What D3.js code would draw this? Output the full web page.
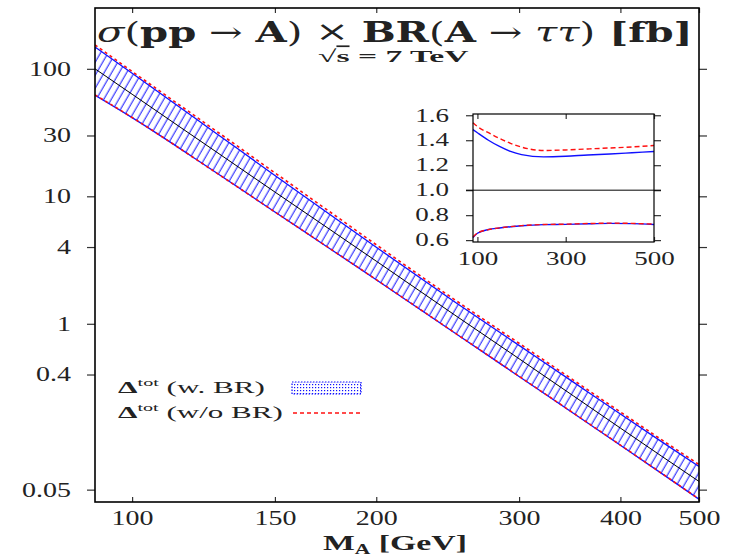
<!DOCTYPE html>
<html lang="en">
<head>
    <meta charset="UTF-8">
    <title>sigma x BR (A -> tau tau)</title>
    <script src="https://d3js.org/d3.v7.min.js"></script>
    <style>
        body { margin: 0; background: #fff; }
        svg text { fill: #222; }
    </style>
</head>
<body>
    <svg width="743" height="557" font-family="Liberation Serif, DejaVu Serif, serif"></svg>

    <script>
        // data
        const mass = [90, 100, 125, 150, 175, 200, 250, 300, 350, 400, 450, 500];
        const central = [100, 63.2, 23.9, 10.8, 5.54, 3.10, 1.17, 0.532, 0.272, 0.152, 0.0912, 0.058];
        // relative band edges (also shown in the inset)
        const upBR   = [1.485, 1.46, 1.40, 1.35, 1.31, 1.285, 1.267, 1.272, 1.282, 1.29, 1.30, 1.31];
        const loBR   = [0.62, 0.655, 0.685, 0.697, 0.707, 0.715, 0.724, 0.726, 0.731, 0.734, 0.732, 0.725];
        const upNoBR = [1.54, 1.51, 1.46, 1.415, 1.375, 1.345, 1.318, 1.322, 1.33, 1.338, 1.346, 1.358];
        const loNoBR = [0.625, 0.657, 0.684, 0.698, 0.708, 0.716, 0.725, 0.728, 0.733, 0.736, 0.734, 0.728];

        const xTicks = [100, 150, 200, 300, 400, 500];
        const yTicks = [0.05, 0.4, 1, 4, 10, 30, 100];
        const insetXTicks = [100, 300, 500];
        const insetYTicks = [0.6, 0.8, 1.0, 1.2, 1.4, 1.6];

        const svg = d3.select("svg");
        const defs = svg.append("defs");

        // hatch for the band
        defs.append("pattern")
            .attr("id", "hatch")
            .attr("patternUnits", "userSpaceOnUse")
            .attr("width", 6.5).attr("height", 6.5)
            .attr("patternTransform", "rotate(30)")
            .append("line")
            .attr("x1", 3).attr("y1", 0).attr("x2", 3).attr("y2", 6.5)
            .attr("stroke", "#1010ff").attr("stroke-width", 1);

        // dotted fill for the legend swatch
        const dots = defs.append("pattern")
            .attr("id", "dots")
            .attr("patternUnits", "userSpaceOnUse")
            .attr("width", 3).attr("height", 3);
        dots.append("rect").attr("width", 1.2).attr("height", 1.2).attr("fill", "#1010ff");

        const L = 95, R = 699, T = 8, B = 502;
        defs.append("clipPath").attr("id", "plotclip")
            .append("rect").attr("x", L).attr("y", T).attr("width", R - L).attr("height", B - T);

        const x = d3.scaleLog().domain([90, 500]).range([L, R]);
        const y = d3.scaleLog().domain([0.04, 300]).range([B, T]);

        const rows = mass.map((m, i) => ({
            m, c: central[i],
            ub: central[i] * upBR[i], lb: central[i] * loBR[i],
            un: central[i] * upNoBR[i], ln: central[i] * loNoBR[i],
            rub: upBR[i], rlb: loBR[i], run: upNoBR[i], rln: loNoBR[i]
        }));

        const plot = svg.append("g").attr("clip-path", "url(#plotclip)");

        plot.append("path")
            .datum(rows)
            .attr("fill", "url(#hatch)")
            .attr("d", d3.area().curve(d3.curveMonotoneX)
                .x(d => x(d.m)).y0(d => y(d.lb)).y1(d => y(d.ub)));

        const mline = key => d3.line().curve(d3.curveMonotoneX).x(d => x(d.m)).y(d => y(d[key]));

        ["ub", "lb"].forEach(k => plot.append("path").datum(rows)
            .attr("fill", "none").attr("stroke", "#1010ff").attr("stroke-width", 1.3)
            .attr("d", mline(k)));
        ["un", "ln"].forEach(k => plot.append("path").datum(rows)
            .attr("fill", "none").attr("stroke", "#ff1010").attr("stroke-width", 1.6)
            .attr("stroke-dasharray", "3,3")
            .attr("d", mline(k)));
        plot.append("path").datum(rows)
            .attr("fill", "none").attr("stroke", "#000").attr("stroke-width", 1)
            .attr("d", mline("c"));

        // axes
        const sx = 1.4;
        const styleAxis = (g, fs, scale) => {
            g.attr("font-family", null);
            g.select(".domain").remove();
            g.selectAll(".tick line").attr("stroke", "#333").attr("stroke-width", 1.2);
            g.selectAll(".tick text")
                .attr("font-size", fs).attr("fill", "#333")
                .attr("transform", `scale(${scale},1)`);
        };

        svg.append("g").attr("transform", `translate(${L},0)`)
            .call(d3.axisLeft(y).tickValues(yTicks).tickSize(8).tickPadding(9.2)
                .tickFormat(d3.format("~g")))
            .call(g => styleAxis(g, 20, sx));
        svg.append("g").attr("transform", `translate(${R},0)`)
            .call(d3.axisRight(y).tickValues(yTicks).tickSize(8).tickFormat(""))
            .call(g => styleAxis(g, 20, sx));
        svg.append("g").attr("transform", `translate(0,${B})`)
            .call(d3.axisBottom(x).tickValues(xTicks).tickSizeInner(-5).tickSizeOuter(0)
                .tickPadding(9).tickFormat(d3.format("d")))
            .call(g => styleAxis(g, 20, sx));
        svg.append("g").attr("transform", `translate(0,${T})`)
            .call(d3.axisTop(x).tickValues(xTicks).tickSizeInner(-5).tickSizeOuter(0).tickFormat(""))
            .call(g => styleAxis(g, 20, sx));

        svg.append("rect")
            .attr("x", L).attr("y", T).attr("width", R - L).attr("height", B - T)
            .attr("fill", "none").attr("stroke", "#000").attr("stroke-width", 1.6);

        // stretch a text horizontally so it spans the given width
        function fitWidth(t, x0, yb, w) {
            const bw = t.node().getBBox().width;
            t.attr("transform", `translate(${x0},${yb}) scale(${w / bw},1)`);
        }

        // title
        const title = svg.append("text").attr("font-size", 28)
            .attr("font-family", "DejaVu Serif, serif");
        [["σ", "italic", "normal", 0], ["(", "normal", "normal", 0], ["pp", "normal", "bold", 0],
         [" → ", "normal", "normal", 0], ["A", "normal", "bold", 0], [")", "normal", "normal", 0],
         [" × ", "normal", "normal", -1.5], ["BR", "normal", "bold", 1.5], ["(", "normal", "normal", 0],
         ["A", "normal", "bold", 0], [" → ", "normal", "normal", 0], ["ττ", "italic", "normal", 0],
         [")", "normal", "normal", 0], [" [fb]", "normal", "bold", 0]]
            .forEach(([s, st, w, dy]) => title.append("tspan")
                .attr("font-style", st).attr("font-weight", w).attr("dy", dy).text(s));
        fitWidth(title, 97, 42, 596);

        const sub = svg.append("text").attr("font-size", 17).attr("font-weight", "bold");
        sub.append("tspan").text("√");
        sub.append("tspan").style("text-decoration", "overline").text("s");
        sub.append("tspan").text(" = 7 TeV");
        fitWidth(sub, 318, 62, 152);

        const xlab = svg.append("text").attr("font-size", 22).attr("font-weight", "bold");
        xlab.append("tspan").text("M");
        xlab.append("tspan").attr("font-size", 14).attr("dy", 4).text("A");
        xlab.append("tspan").attr("dy", -4).text(" [GeV]");
        fitWidth(xlab, 323, 550, 144);

        // legend
        const legendRows = [["(w. BR)", 393, 147], ["(w/o BR)", 418, 165]];
        legendRows.forEach(([lbl, yb, w]) => {
            const t = svg.append("text").attr("font-size", 17);
            t.append("tspan").attr("font-weight", "bold").text("Δ");
            t.append("tspan").attr("font-size", 11).attr("dy", -7).text("tot");
            t.append("tspan").attr("dy", 7).text(" " + lbl);
            fitWidth(t, 118, yb, w);
        });
        svg.append("rect").attr("x", 292).attr("y", 382).attr("width", 69).attr("height", 12)
            .attr("fill", "url(#dots)").attr("stroke", "#1010ff").attr("stroke-width", 1.2)
            .attr("stroke-dasharray", "1.5,1.5");
        svg.append("line").attr("x1", 293).attr("x2", 360).attr("y1", 413).attr("y2", 413)
            .attr("stroke", "#ff1010").attr("stroke-width", 1.4).attr("stroke-dasharray", "4,3");

        // inset with the relative uncertainties
        const iL = 473, iR = 654, iT = 114, iB = 242;
        const xi = d3.scaleLinear().domain([90, 500]).range([iL, iR]);
        const yi = d3.scaleLinear().domain([0.585, 1.61]).range([iB, iT]);

        svg.append("rect").attr("x", iL).attr("y", iT).attr("width", iR - iL).attr("height", iB - iT)
            .attr("fill", "#fff");

        const isx = 1.5;
        svg.append("g").attr("transform", `translate(${iL},0)`)
            .call(d3.axisLeft(yi).tickValues(insetYTicks).tickSize(7).tickPadding(9)
                .tickFormat(d3.format(".1f")))
            .call(g => styleAxis(g, 18, isx));
        svg.append("g").attr("transform", `translate(${iR},0)`)
            .call(d3.axisRight(yi).tickValues(insetYTicks).tickSize(7).tickFormat(""))
            .call(g => styleAxis(g, 18, isx));
        svg.append("g").attr("transform", `translate(0,${iB})`)
            .call(d3.axisBottom(xi).tickValues(insetXTicks).tickSizeInner(-5).tickSizeOuter(0)
                .tickPadding(10).tickFormat(d3.format("d")))
            .call(g => styleAxis(g, 18, isx));
        svg.append("g").attr("transform", `translate(0,${iT})`)
            .call(d3.axisTop(xi).tickValues(insetXTicks).tickSizeInner(-5).tickSizeOuter(0).tickFormat(""))
            .call(g => styleAxis(g, 18, isx));

        svg.append("line").attr("x1", iL - 7).attr("x2", iR + 7).attr("y1", yi(1)).attr("y2", yi(1))
            .attr("stroke", "#000").attr("stroke-width", 1);

        const iline = key => d3.line().curve(d3.curveMonotoneX).x(d => xi(d.m)).y(d => yi(d[key]));
        ["rub", "rlb"].forEach(k => svg.append("path").datum(rows)
            .attr("fill", "none").attr("stroke", "#1010ff").attr("stroke-width", 1.4)
            .attr("d", iline(k)));
        ["run", "rln"].forEach(k => svg.append("path").datum(rows)
            .attr("fill", "none").attr("stroke", "#ff1010").attr("stroke-width", 1.4)
            .attr("stroke-dasharray", "5,3")
            .attr("d", iline(k)));

        svg.append("rect").attr("x", iL).attr("y", iT).attr("width", iR - iL).attr("height", iB - iT)
            .attr("fill", "none").attr("stroke", "#000").attr("stroke-width", 1.2);
    </script>
</body>
</html>
